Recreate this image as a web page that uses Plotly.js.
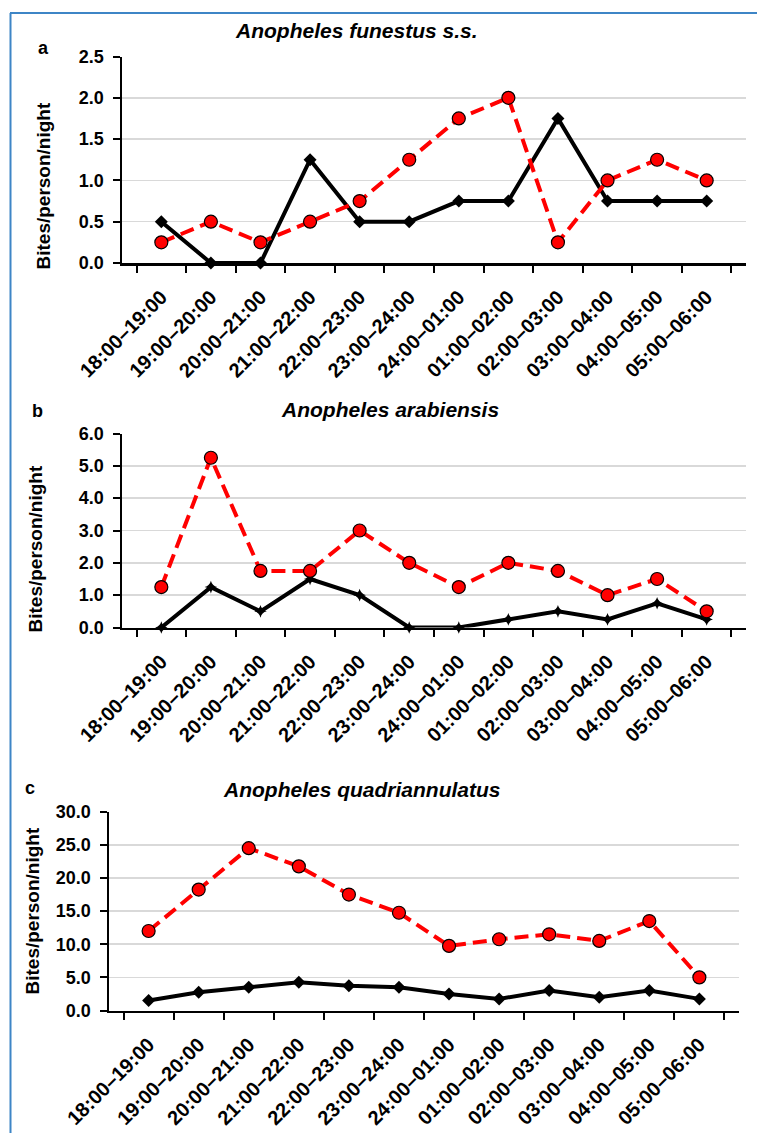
<!DOCTYPE html>
<html>
<head>
<meta charset="utf-8">
<script src="https://cdn.plot.ly/plotly-3.0.1.min.js"></script>
<style>
html,body{margin:0;padding:0;background:#fff;}
#chart{width:757px;height:1133px;}
</style>
</head>
<body>
<div id="chart"></div>
<script>
var hours = ["18:00–19:00","19:00–20:00","20:00–21:00","21:00–22:00","22:00–23:00","23:00–24:00","24:00–01:00","01:00–02:00","02:00–03:00","03:00–04:00","04:00–05:00","05:00–06:00"];

var funestusRed   = [0.25, 0.5, 0.25, 0.5, 0.75, 1.25, 1.75, 2.0, 0.25, 1.0, 1.25, 1.0];
var funestusBlack = [0.5, 0, 0, 1.25, 0.5, 0.5, 0.75, 0.75, 1.75, 0.75, 0.75, 0.75];

var arabiensisRed   = [1.25, 5.25, 1.75, 1.75, 3.0, 2.0, 1.25, 2.0, 1.75, 1.0, 1.5, 0.5];
var arabiensisBlack = [0, 1.25, 0.5, 1.5, 1.0, 0, 0, 0.25, 0.5, 0.25, 0.75, 0.25];

var quadriRed   = [12.0, 18.25, 24.5, 21.75, 17.5, 14.75, 9.75, 10.75, 11.5, 10.5, 13.5, 5.0];
var quadriBlack = [1.5, 2.75, 3.5, 4.25, 3.75, 3.5, 2.5, 1.75, 3.0, 2.0, 3.0, 1.75];

var panelTitles = ["Anopheles funestus s.s.", "Anopheles arabiensis", "Anopheles quadriannulatus"];
var panelLetters = ["a", "b", "c"];
var yTitle = "Bites/person/night";

var FONT = "Liberation Sans, Arial, sans-serif";

function redTrace(y, xa, ya){
  return {x: hours, y: y, xaxis: xa, yaxis: ya, type: "scatter", mode: "lines+markers",
    line: {color: "#ff0000", width: 4, dash: "14px,7px"},
    marker: {symbol: "circle", size: 13, color: "#ff0000", line: {color: "#000", width: 1.2}},
    showlegend: false, cliponaxis: false};
}
function blackTrace(y, xa, ya, sym, sz){
  return {x: hours, y: y, xaxis: xa, yaxis: ya, type: "scatter", mode: "lines+markers",
    line: {color: "#000", width: 4},
    marker: {symbol: sym, size: sz, color: "#000"},
    showlegend: false, cliponaxis: false};
}

var data = [
  blackTrace(funestusBlack, "x", "y", "diamond", 10),
  redTrace(funestusRed, "x", "y"),
  blackTrace(arabiensisBlack, "x2", "y2", "star-diamond", 9),
  redTrace(arabiensisRed, "x2", "y2"),
  blackTrace(quadriBlack, "x3", "y3", "diamond", 10),
  redTrace(quadriRed, "x3", "y3")
];

function xAxis(dom, anchor){
  return {domain: dom, anchor: anchor, type: "category", tickangle: -45,
    tickfont: {family: FONT, size: 20, color: "#000", weight: "bold"},
    ticklabelstandoff: 12,
    showline: true, linecolor: "#000", linewidth: 2.5, ticks: "outside", ticklen: 7, tickwidth: 2, tickcolor: "#000",
    tickson: "boundaries", showgrid: false, zeroline: false, fixedrange: true};
}
function yAxis(dom, anchor, range, dtick){
  return {domain: dom, anchor: anchor, range: range, dtick: dtick, tick0: 0, tickformat: ".1f",
    tickfont: {family: FONT, size: 18, color: "#000", weight: "bold"},
    ticklabelstandoff: 5,
    showline: true, linecolor: "#000", linewidth: 2.5, ticks: "outside", ticklen: 7, tickwidth: 2, tickcolor: "#000",
    showgrid: true, gridcolor: "#d9d9d9", gridwidth: 1.5, zeroline: false, fixedrange: true};
}

var W = 757, H = 1133;
function px(v){ return v / W; }
function py(v){ return 1 - v / H; }

function yTitleAnn(x, y){
  return {text: "<b>" + yTitle + "</b>", xref: "paper", yref: "paper", x: px(x), y: py(y), textangle: -90,
    showarrow: false, xanchor: "center", yanchor: "middle", font: {family: FONT, size: 19, color: "#000"}};
}
function titleAnn(t, x, y){
  return {text: "<b><i>" + t + "</i></b>", xref: "paper", yref: "paper", x: px(x), y: py(y), showarrow: false,
    xanchor: "center", yanchor: "middle", font: {family: FONT, size: 21, color: "#000"}};
}
function letterAnn(t, x, y){
  return {text: "<b>" + t + "</b>", xref: "paper", yref: "paper", x: px(x), y: py(y), showarrow: false,
    xanchor: "center", yanchor: "middle", font: {family: FONT, size: 18, color: "#000"}};
}

var layout = {
  width: W, height: H,
  margin: {l: 0, r: 0, t: 0, b: 0},
  paper_bgcolor: "#fff", plot_bgcolor: "#fff",
  xaxis: xAxis([px(122), px(746)], "y"),
  yaxis: yAxis([py(263), py(56.5)], "x", [0, 2.5], 0.5),
  xaxis2: xAxis([px(122), px(746)], "y2"),
  yaxis2: yAxis([py(627.5), py(433.5)], "x2", [0, 6], 1),
  xaxis3: xAxis([px(109), px(739)], "y3"),
  yaxis3: yAxis([py(1010.5), py(811.7)], "x3", [0, 30], 5),
  annotations: [
    titleAnn(panelTitles[0], 356, 30),
    titleAnn(panelTitles[1], 390, 409),
    titleAnn(panelTitles[2], 362, 789),
    letterAnn(panelLetters[0], 43, 48),
    letterAnn(panelLetters[1], 37.5, 411),
    letterAnn(panelLetters[2], 30, 788),
    yTitleAnn(43, 186.5),
    yTitleAnn(35, 549.5),
    yTitleAnn(32, 911.5)
  ],
  shapes: [
    {type: "line", xref: "paper", yref: "paper", x0: px(10), x1: 1, y0: py(13), y1: py(13), line: {color: "#3d85c6", width: 2}},
    {type: "line", xref: "paper", yref: "paper", x0: px(10.5), x1: px(10.5), y0: py(13), y1: 0, line: {color: "#3d85c6", width: 2}}
  ]
};

Plotly.newPlot("chart", data, layout, {displayModeBar: false, staticPlot: true});
</script>
</body>
</html>
